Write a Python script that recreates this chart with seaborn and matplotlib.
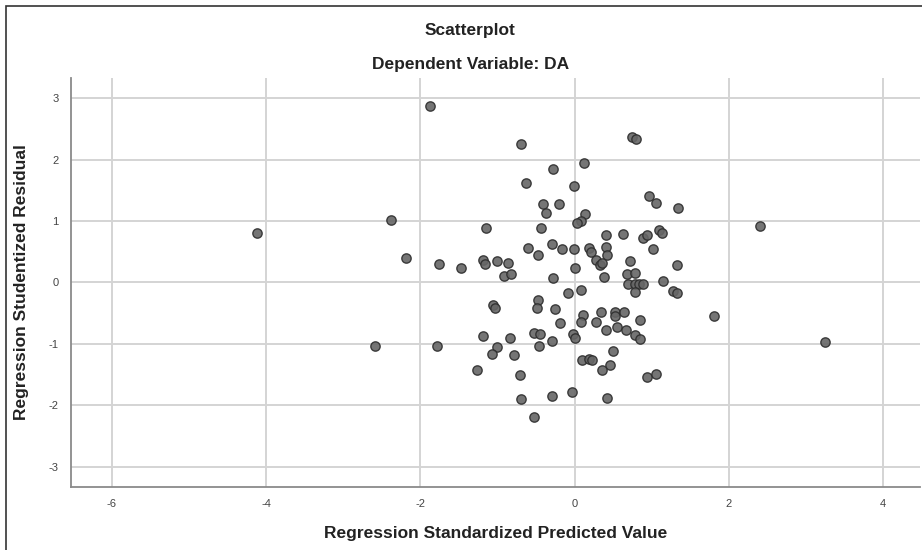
import pandas as pd
import matplotlib.pyplot as plt
import seaborn as sns
from matplotlib.patches import Rectangle

# values
pred = [-4.12, -2.38, -2.59, -1.88, -0.70, 0.12, 0.74, 0.80, -0.28, -0.63,
        -0.01, 0.96, 1.05, 1.34, -0.41, -0.37, -0.20, 0.14, 0.08, 0.03,
        -1.15, -0.44, 1.09, 1.13, 0.41, 0.63, 0.89, 0.94, -0.61, -0.29,
        -0.17, -0.48, -0.01, 0.18, 0.21, 0.41, 0.42, 1.02, -2.19, -1.76,
        -1.47, -1.19, -1.16, -1.01, -0.86, -0.91, -0.82, -0.28, 0.01, 0.28,
        0.33, 0.36, 0.72, 0.68, 0.78, 0.38, 1.14, 1.33, 0.69, 0.78,
        0.83, 0.89, 0.78, 1.27, 1.33, -0.09, 0.08, -1.06, -1.03, -0.48,
        -0.49, -0.25, 0.11, 0.08, -0.19, 0.34, 0.52, 0.52, 0.64, 0.28,
        0.85, 0.41, 0.55, 0.67, 0.78, 0.85, -1.19, -0.84, -0.53, -0.45,
        -0.02, 0.01, -0.29, -1.78, -0.46, -1.01, -1.07, -0.78, 0.50, 0.09,
        0.19, 0.22, 0.46, 0.36, -1.26, -0.71, 0.94, 1.06, -0.03, -0.29,
        -0.69, 0.42, -0.53, 2.40, 1.81, 3.24]
resid = [0.80, 1.01, -1.04, 2.88, 2.25, 1.94, 2.37, 2.33, 1.85, 1.62,
         1.57, 1.41, 1.30, 1.22, 1.27, 1.13, 1.28, 1.12, 1.00, 0.97,
         0.89, 0.89, 0.86, 0.81, 0.78, 0.79, 0.73, 0.78, 0.56, 0.63,
         0.55, 0.45, 0.55, 0.56, 0.49, 0.57, 0.44, 0.55, 0.39, 0.30,
         0.23, 0.36, 0.30, 0.35, 0.31, 0.10, 0.13, 0.08, 0.24, 0.36,
         0.29, 0.31, 0.35, 0.14, 0.15, 0.09, 0.03, 0.29, -0.02, -0.03,
         -0.03, -0.02, -0.15, -0.14, -0.18, -0.17, -0.12, -0.36, -0.42, -0.29,
         -0.42, -0.44, -0.53, -0.64, -0.66, -0.49, -0.49, -0.54, -0.49, -0.64,
         -0.61, -0.77, -0.73, -0.77, -0.85, -0.92, -0.87, -0.90, -0.83, -0.84,
         -0.84, -0.90, -0.95, -1.04, -1.03, -1.06, -1.16, -1.19, -1.12, -1.26,
         -1.24, -1.27, -1.35, -1.43, -1.42, -1.51, -1.54, -1.50, -1.78, -1.85,
         -1.90, -1.88, -2.19, 0.92, -0.55, -0.97]
x_ticks = [-6, -4, -2, 0, 2, 4]
y_ticks = [-3, -2, -1, 0, 1, 2, 3]

df = pd.DataFrame({'pred': pred, 'resid': resid})

sns.set_style('white')
plt.rcParams['font.family'] = ['Liberation Sans Narrow', 'Liberation Sans', 'DejaVu Sans']

fig = plt.figure(figsize=(9.22, 5.5), dpi=100)
ax = fig.add_axes([0.077, 0.115, 0.921, 0.743])

sns.scatterplot(data=df, x='pred', y='resid', ax=ax, s=45, color='#666666',
                edgecolor='#2e2e2e', linewidth=1.0, alpha=0.9, zorder=3)

ax.set_xlim(-6.53, 4.48)
ax.set_ylim(-3.33, 3.33)
ax.set_xticks(x_ticks)
ax.set_yticks(y_ticks)
ax.set_xticklabels([str(t) for t in x_ticks])
ax.set_yticklabels([str(t) for t in y_ticks])
ax.grid(True, color='#d4d4d4', linewidth=1.4, zorder=0)
ax.set_axisbelow(True)
ax.tick_params(axis='both', labelsize=8, colors='#444444', length=0, pad=9)

for s in ['top', 'right']:
    ax.spines[s].set_visible(False)
for s in ['left', 'bottom']:
    ax.spines[s].set_color('#8a8a8a')
    ax.spines[s].set_linewidth(1.3)

ax.set_xlabel('Regression Standardized Predicted Value', fontsize=12.5,
              fontweight='bold', color='#222222', labelpad=12)
ax.set_ylabel('Regression Studentized Residual', fontsize=12.5, fontweight='bold',
              color='#222222', labelpad=14, family=['Liberation Sans', 'DejaVu Sans'])

fig.text(0.51, 0.945, 'Scatterplot', ha='center', va='center', fontsize=12.5,
         fontweight='bold', color='#222222')
fig.text(0.51, 0.882, 'Dependent Variable: DA', ha='center', va='center',
         fontsize=12.5, fontweight='bold', color='#222222')

# outer frame as in the source export
fig.patches.append(Rectangle((0.006, -0.02), 1.1, 1.009, transform=fig.transFigure,
                             fill=False, edgecolor='#333333', linewidth=1.2))

fig.savefig('out.png', dpi=100)
